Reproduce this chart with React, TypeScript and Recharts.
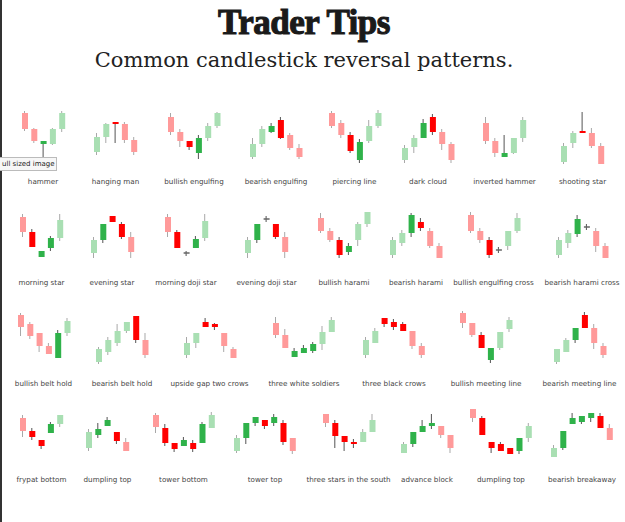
import React from 'react'
import { ComposedChart, Bar, XAxis, YAxis } from 'recharts'

const LABELS = [
  'hammer', 'hanging man', 'bullish engulfing', 'bearish engulfing',
  'piercing line', 'dark cloud', 'inverted hammer', 'shooting star',
  'morning star', 'evening star', 'morning doji star', 'evening doji star',
  'bullish harami', 'bearish harami', 'bullish engulfing cross', 'bearish harami cross',
  'bullish belt hold', 'bearish belt hold', 'upside gap two crows', 'three white soldiers',
  'three black crows', 'bullish meeting line', 'bearish meeting line',
  'frypat bottom', 'dumpling top', 'tower bottom', 'tower top',
  'three stars in the south', 'advance block', 'dumpling top', 'bearish breakaway',
]

// each candle: [open, high, low, close]
const CANDLES: number[][][] = [
  [[55, 57, 37, 39], [39, 40, 25, 27], [24, 27, 10, 27], [24, 40, 23, 39], [39, 57, 36, 55]],
  [[16, 35, 13, 31], [31, 45, 25, 44], [46, 46, 25, 44], [44, 46, 25, 28], [28, 31, 13, 16]],
  [[51, 55, 33, 36], [36, 39, 21, 27], [27, 27, 18, 21], [15, 33, 9, 30], [30, 45, 27, 42], [42, 56, 40, 55]],
  [[11, 30, 9, 24], [24, 42, 21, 39], [36, 45, 35, 42], [48, 51, 29, 30], [33, 35, 18, 20], [20, 24, 9, 11]],
  [[55, 57, 40, 42], [45, 48, 30, 33], [33, 36, 15, 17], [8, 29, 5, 26], [27, 48, 25, 42], [42, 58, 40, 55]],
  [[8, 23, 5, 20], [21, 33, 15, 30], [30, 49, 30, 45], [51, 54, 33, 36], [36, 39, 18, 24], [24, 26, 5, 8]],
  [[45, 51, 24, 27], [27, 30, 11, 15], [11, 33, 11, 15], [15, 30, 14, 30], [30, 51, 26, 48]],
  [[6, 25, 4, 22], [25, 37, 20, 35], [37, 56, 35, 35], [35, 40, 20, 22], [22, 25, 4, 4]],
  [[51, 54, 31, 36], [36, 39, 21, 21], [11, 17, 11, 17], [20, 32, 17, 30], [30, 54, 27, 48]],
  [[15, 31, 10, 28], [28, 44, 25, 44], [52, 52, 46, 46], [44, 46, 29, 31], [31, 36, 10, 16]],
  [[51, 54, 31, 36], [36, 38, 20, 20], [15, 17, 12, 15], [20, 32, 20, 29], [30, 54, 27, 47]],
  [[15, 31, 10, 28], [28, 44, 25, 44], [49, 52, 46, 49], [44, 44, 29, 31], [31, 36, 10, 16]],
  [[50, 55, 35, 37], [37, 40, 26, 28], [28, 31, 10, 13], [16, 25, 13, 22], [28, 46, 22, 44], [44, 56, 41, 56]],
  [[13, 31, 10, 28], [25, 38, 22, 35], [35, 55, 31, 53], [46, 50, 37, 40], [37, 40, 20, 22], [22, 25, 10, 10]],
  [[53, 56, 35, 37], [37, 40, 25, 28], [28, 31, 10, 13], [18, 21, 15, 18], [22, 37, 18, 37], [37, 55, 35, 50]],
  [[13, 31, 10, 28], [25, 38, 20, 35], [34, 53, 31, 49], [41, 44, 38, 41], [37, 40, 16, 22], [22, 25, 10, 10]],
  [[53, 55, 32, 41], [44, 46, 29, 32], [35, 35, 16, 22], [22, 25, 14, 14], [10, 38, 10, 35], [35, 50, 32, 47]],
  [[6, 21, 4, 19], [16, 31, 13, 28], [25, 44, 22, 37], [37, 46, 35, 46], [52, 52, 25, 28], [28, 35, 10, 13]],
  [[13, 31, 10, 25], [25, 35, 20, 35], [46, 50, 41, 41], [44, 45, 38, 41], [35, 35, 16, 22], [19, 21, 10, 10]],
  [[45, 51, 30, 33], [33, 39, 20, 20], [11, 20, 11, 17], [15, 23, 15, 20], [17, 26, 15, 24], [24, 42, 18, 36], [36, 51, 36, 48]],
  [[13, 31, 10, 28], [25, 40, 25, 37], [50, 50, 41, 44], [46, 49, 38, 41], [44, 46, 37, 37], [37, 37, 19, 22], [22, 25, 10, 13]],
  [[55, 57, 40, 45], [45, 45, 31, 33], [33, 36, 20, 20], [8, 20, 5, 20], [20, 36, 18, 36], [39, 51, 36, 48]],
  [[6, 19, 4, 19], [16, 30, 16, 28], [28, 40, 25, 40], [53, 56, 40, 40], [40, 44, 19, 25], [22, 25, 10, 13]],
  [[47, 50, 28, 34], [34, 37, 25, 28], [25, 25, 16, 19], [32, 43, 32, 41], [41, 50, 38, 50]],
  [[17, 36, 14, 33], [30, 42, 27, 36], [39, 48, 39, 45], [33, 33, 21, 24], [23, 27, 14, 14]],
  [[50, 52, 32, 38], [37, 41, 19, 22], [22, 22, 13, 16], [19, 28, 19, 25], [22, 25, 13, 16], [22, 43, 22, 41], [37, 53, 37, 50]],
  [[14, 30, 12, 27], [27, 42, 21, 42], [42, 48, 39, 48], [45, 45, 36, 39], [42, 51, 39, 48], [42, 45, 20, 23], [27, 27, 11, 14]],
  [[51, 51, 38, 42], [42, 45, 17, 29], [29, 29, 14, 23], [23, 26, 17, 21], [23, 36, 23, 33], [33, 51, 33, 45]],
  [[12, 23, 12, 21], [21, 33, 18, 33], [33, 45, 33, 39], [39, 51, 36, 42], [39, 39, 27, 30], [30, 30, 12, 17]],
  [[56, 56, 43, 47], [47, 49, 30, 30], [23, 23, 12, 17], [21, 23, 14, 14], [17, 17, 11, 11], [14, 27, 11, 27], [27, 42, 23, 39]],
  [[8, 20, 8, 17], [17, 34, 15, 34], [41, 52, 41, 47], [43, 49, 41, 49], [47, 52, 43, 52], [49, 52, 37, 37], [37, 41, 25, 25]],
]

// candles drawn in the strong colour (the pattern itself)
const STRONG: number[][] = [
  [2], [2], [2, 3], [2, 3], [2, 3], [2, 3], [2], [2],
  [1, 2, 3], [1, 2, 3], [1, 3], [1, 3], [2, 3], [2, 3], [2], [2],
  [4], [4], [2, 3], [2, 3, 4], [2, 3, 4], [2, 3], [2, 3],
  [1, 2, 3], [1, 2, 3], [1, 2, 3, 4, 5], [1, 2, 3, 4, 5], [1, 2, 3], [1, 2, 3], [1, 2, 3, 4, 5], [1, 2, 3, 4, 5],
]

// layout
const ROW_COUNTS = [8, 8, 7, 8]
const ROW_TOPS = [108, 208, 308, 405]
const LABEL_Y = [182, 282.5, 383.5, 480]
const CENTERS = [
  [43, 115.5, 194, 276, 354.5, 428, 504.5, 582.5],
  [41.5, 112, 186, 266.5, 344, 416, 493.5, 582],
  [43.5, 122, 209.5, 304, 394, 486, 579.5],
  [41.5, 107.5, 183.5, 265, 348.5, 427, 501, 582],
]
const PITCH = 9.3
const CHART_H = 60

const COLORS = {
  upStrong: '#2fb24a',
  up: '#a9dfb3',
  downStrong: '#ff0000',
  down: '#ff9a9a',
  doji: '#666666',
}

function candleColor(p: any) {
  if (p.open === p.close) return COLORS.doji
  if (p.close > p.open) return p.strong ? COLORS.upStrong : COLORS.up
  return p.strong ? COLORS.downStrong : COLORS.down
}

function Body(props: any) {
  const { x, y, width, height, payload } = props
  const top = Math.min(y, y + height)
  const h = Math.abs(height)
  if (payload.open === payload.close) {
    return <rect x={x} y={top - 0.75} width={width} height={1.5} fill={COLORS.doji} />
  }
  return <rect x={x} y={top} width={width} height={h} fill={candleColor(payload)} />
}

function Wick(props: any) {
  const { x, y, width, height, payload } = props
  const top = Math.min(y, y + height)
  const h = Math.abs(height)
  const dark = payload.strong || payload.open === payload.close
  return <rect x={x + width / 2 - 0.5} y={top} width={1} height={h} fill={dark ? '#555' : '#a8a8a8'} />
}

function MiniChart({ idx, center, top }: { idx: number; center: number; top: number }) {
  const data = CANDLES[idx].map(([open, high, low, close], i) => ({
    i,
    open,
    close,
    strong: STRONG[idx].includes(i),
    wick: [low, high],
    body: [Math.min(open, close), Math.max(open, close)],
  }))
  const w = data.length * PITCH
  return (
    <div style={{ position: 'absolute', left: center - w / 2, top }}>
      <ComposedChart width={w} height={CHART_H} data={data} margin={{ top: 0, right: 0, bottom: 0, left: 0 }}>
        <XAxis xAxisId="w" dataKey="i" hide />
        <XAxis xAxisId="b" dataKey="i" hide />
        <YAxis hide domain={[0, 60]} />
        <Bar xAxisId="w" dataKey="wick" barSize={1} shape={<Wick />} isAnimationActive={false} />
        <Bar xAxisId="b" dataKey="body" barSize={6} shape={<Body />} isAnimationActive={false} />
      </ComposedChart>
    </div>
  )
}

export default function App() {
  const cells: React.ReactNode[] = []
  let idx = 0
  ROW_COUNTS.forEach((count, r) => {
    for (let c = 0; c < count; c++) {
      const center = CENTERS[r][c]
      cells.push(<MiniChart key={'c' + idx} idx={idx} center={center} top={ROW_TOPS[r]} />)
      cells.push(
        <div
          key={'l' + idx}
          style={{
            position: 'absolute', left: center - 60, width: 120, top: LABEL_Y[r] - 5,
            lineHeight: '10px', textAlign: 'center', fontFamily: '"DejaVu Sans", sans-serif',
            fontSize: 7.2, color: '#444',
          }}
        >
          {LABELS[idx]}
        </div>
      )
      idx++
    }
  })

  return (
    <div style={{ position: 'absolute', left: 0, top: 0, width: 625, height: 522, background: '#fff', overflow: 'hidden' }}>
      <div style={{ position: 'absolute', left: 0, top: 0, width: 2, height: 522, background: '#333' }} />
      <div
        style={{
          position: 'absolute', left: 0, width: 608, top: 3, textAlign: 'center',
          fontFamily: '"Liberation Serif", serif', fontWeight: 700, fontSize: 35, color: '#1a1a1a',
          WebkitTextStroke: '1.1px #1a1a1a', lineHeight: '40px', letterSpacing: -0.5,
        }}
      >
        Trader Tips
      </div>
      <div
        style={{
          position: 'absolute', left: 0, width: 608, top: 46, textAlign: 'center',
          fontFamily: '"DejaVu Serif", serif', fontSize: 21, color: '#222', lineHeight: '28px',
        }}
      >
        Common candlestick reversal patterns.
      </div>
      {cells}
      <div
        style={{
          position: 'absolute', left: 0, top: 157, width: 56, height: 12, background: '#f7f7f7',
          border: '1px solid #bbb', borderLeft: 'none', fontFamily: '"DejaVu Sans", sans-serif',
          fontSize: 7, lineHeight: '12px', color: '#222', whiteSpace: 'nowrap',
        }}
      >
        <span style={{ marginLeft: 2 }}>ull sized image</span>
      </div>
    </div>
  )
}
